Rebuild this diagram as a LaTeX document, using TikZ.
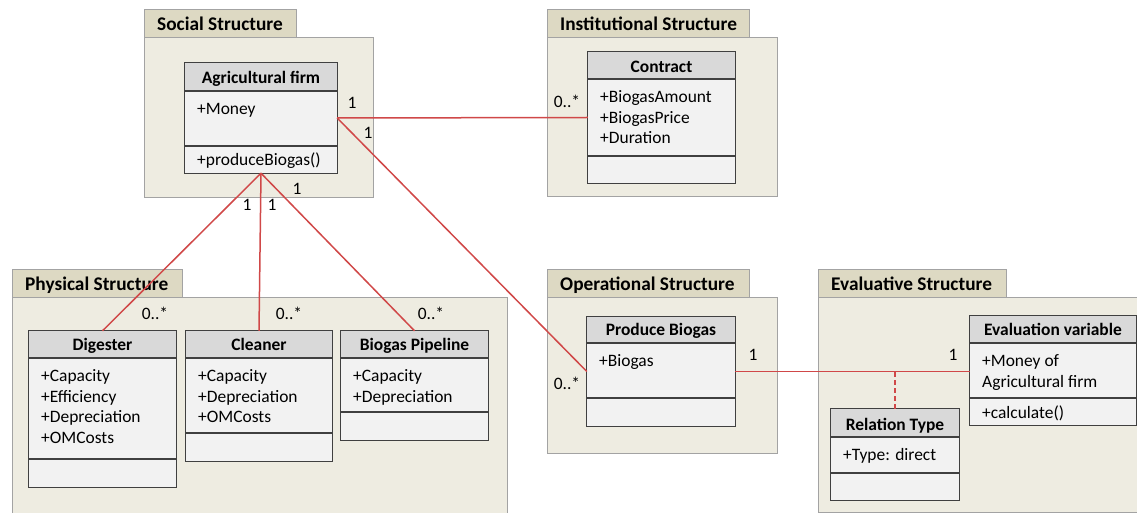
\documentclass[tikz,border=0pt]{standalone}
\usepackage{fontspec}
\setmainfont{Carlito}
\usetikzlibrary{fit}

\definecolor{tabfill}{HTML}{DDD9C3}
\definecolor{pkgfill}{HTML}{EEECE1}
\definecolor{pkgline}{HTML}{A3A3A3}
\definecolor{headfill}{HTML}{D9D9D9}
\definecolor{classfill}{HTML}{F2F2F2}
\definecolor{classline}{HTML}{404040}
\definecolor{assocred}{HTML}{D04848}

\tikzset{
  pkgbody/.style={draw=pkgline, fill=pkgfill, line width=1bp, inner sep=0pt},
  pkgtab/.style={draw=pkgline, fill=tabfill, line width=1bp, inner sep=0pt},
  pkglabel/.style={anchor=base west, inner sep=0pt, font=\fontsize{19.4}{22}\selectfont\bfseries},
  classbody/.style={fill=classfill, inner sep=0pt},
  classedge/.style={draw=classline, line width=1.3bp},
  classtitle/.style={anchor=base, inner sep=0pt, font=\fontsize{17.5}{21}\selectfont\bfseries},
  attrtext/.style={anchor=north west, inner sep=0pt, align=left, font=\fontsize{17.5}{21}\selectfont},
  optext/.style={anchor=base west, inner sep=0pt, font=\fontsize{17.5}{21}\selectfont},
  mult/.style={inner sep=0pt, font=\fontsize{17.5}{21}\selectfont},
  assoc/.style={draw=assocred, line width=1.5bp},
  assocdash/.style={draw=assocred, line width=1.5bp, dash pattern=on 5bp off 3bp},
}

% package: name, tab box, body box
\newcommand\umlpackage[9]{%
  \node[pkgbody, fit={(#6,#7) (#8,#9)}] (#1body) {};
  \node[pkgtab, fit={(#2,#3) (#4,#5)}] (#1tab) {};
}
% class: name, left, top, right, header bottom, attribute bottom, bottom
\newcommand\umlclass[7]{%
  \node[classbody, fit={(#2,#3) (#4,#7)}] (#1) {};
  \fill[headfill] (#2,#3) rectangle (#4,#5);
  \draw[classedge] (#2,#5) -- (#4,#5) (#2,#6) -- (#4,#6);
  \draw[classedge] (#1.north west) rectangle (#1.south east);
}

\begin{document}
\begin{tikzpicture}[x=1bp, y=-1bp]
\useasboundingbox (0,0) rectangle (1137,513);
\clip (0,0) rectangle (1137,513);

% packages
\umlpackage{social}{144}{10}{296}{38}{144}{38}{373}{198}
\umlpackage{inst}{547}{10}{749}{38}{547}{38}{777}{197}
\umlpackage{phys}{12}{270}{182}{298}{12}{298}{507}{530}
\umlpackage{oper}{547}{270}{749}{298}{547}{298}{777}{453}
\umlpackage{eval}{818}{270}{1006}{298}{818}{298}{1160}{512}

\node[pkglabel] (sociallabel) at (157,31) {Social Structure};
\node[pkglabel] (instlabel) at (560,31) {Institutional Structure};
\node[pkglabel] (physlabel) at (25,291) {Physical Structure};
\node[pkglabel] (operlabel) at (560,291) {Operational Structure};
\node[pkglabel] (evallabel) at (831,291) {Evaluative Structure};

% classes
\umlclass{agri}{185}{63}{337}{91}{146}{173}
\node[classtitle] (agrititle) at (261,84) {Agricultural firm};
\node[attrtext] (agriattr) at (197,99.3) {\strut+Money};
\node[optext] (agriop) at (197,166) {+produceBiogas()};

\umlclass{contract}{588}{52}{735}{79}{156}{183}
\node[classtitle] (contracttitle) at (661.5,72.5) {Contract};
\node[attrtext] (contractattr) at (600,87.3) {\strut+BiogasAmount\\\strut+BiogasPrice\\\strut+Duration};

\umlclass{digester}{29}{331}{176}{358}{459}{487}
\node[classtitle] (digestertitle) at (102.5,351) {Digester};
\node[attrtext] (digesterattr) at (41,366.3) {\strut+Capacity\\\strut+Efficiency\\\strut+Depreciation\\\strut+OMCosts};

\umlclass{cleaner}{186}{331}{332}{358}{433}{461}
\node[classtitle] (cleanertitle) at (259,351) {Cleaner};
\node[attrtext] (cleanerattr) at (198,366.3) {\strut+Capacity\\\strut+Depreciation\\\strut+OMCosts};

\umlclass{pipeline}{341}{331}{488}{358}{412}{440}
\node[classtitle] (pipelinetitle) at (414.5,351) {Biogas Pipeline};
\node[attrtext] (pipelineattr) at (353,366.3) {\strut+Capacity\\\strut+Depreciation};

\umlclass{produce}{587}{317}{735}{343}{398}{426}
\node[classtitle] (producetitle) at (661,336) {Produce Biogas};
\node[attrtext] (produceattr) at (599,351.3) {\strut+Biogas};

\umlclass{evalvar}{970}{316}{1136}{343}{398}{425}
\node[classtitle] (evalvartitle) at (1053,336) {Evaluation variable};
\node[attrtext] (evalvarattr) at (982,351.3) {\strut+Money of\\\strut Agricultural firm};
\node[optext] (evalvarop) at (982,418) {+calculate()};

\umlclass{reltype}{831}{409}{959}{437}{473}{500}
\node[classtitle] (reltypetitle) at (895,430) {Relation Type};
\node[attrtext] (reltypeattr) at (843,445.3) {\strut+Type: direct};

% associations
\draw[assoc] (agri.east) -- (contract.west);
\draw[assoc] (agri.east) -- (produce.west);
\draw[assoc] (agri.south) -- (digester.north);
\draw[assoc] (agri.south) -- (cleaner.north);
\draw[assoc] (agri.south) -- (pipeline.north);
\draw[assoc] (produce.east) -- (produce.east -| evalvar.west);
\draw[assocdash] (reltype.north) -- (reltype.north |- produce.east);

% multiplicities
\node[mult] (m1) at (352,103) {1};
\node[mult] (m2) at (567,101) {0..*};
\node[mult] (m3) at (368,133) {1};
\node[mult] (m4) at (567,383) {0..*};
\node[mult] (m5) at (247,205) {1};
\node[mult] (m6) at (272,205) {1};
\node[mult] (m7) at (297,189) {1};
\node[mult] (m8) at (155,313) {0..*};
\node[mult] (m9) at (289,313) {0..*};
\node[mult] (m10) at (431,313) {0..*};
\node[mult] (m11) at (753,355) {1};
\node[mult] (m12) at (953,355) {1};
\end{tikzpicture}
\end{document}
